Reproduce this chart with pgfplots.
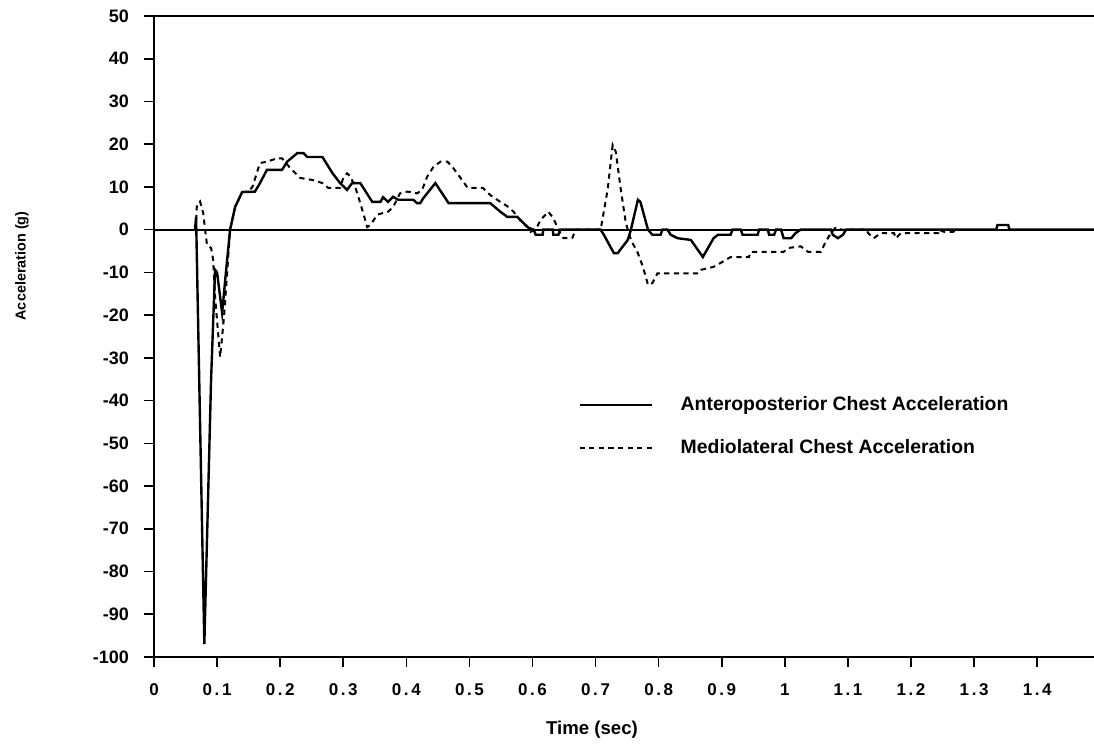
\documentclass[border=0pt]{standalone}
\usepackage{pgfplots}
\pgfplotsset{compat=1.18}
\usepackage{fontspec}
\setmainfont{Liberation Sans}
\newcommand{\dd}[2]{#1\kern1.3pt.\kern1.3pt#2}
\begin{document}
\begin{tikzpicture}
\begin{axis}[
  scale only axis, width=470pt, height=320.5pt,
  xmin=0, xmax=1.49, ymin=-100, ymax=50,
  axis lines=left, axis line style={-, line width=1pt},
  tick align=outside, major tick length=5pt,
  tick style={line width=0.8pt, black},
  xtick={0,0.1,0.2,0.3,0.4,0.5,0.6,0.7,0.8,0.9,1,1.1,1.2,1.3,1.4},
  xticklabels={0,\dd01,\dd02,\dd03,\dd04,\dd05,\dd06,\dd07,\dd08,\dd09,1,\dd11,\dd12,\dd13,\dd14},
  ytick={-100,-90,-80,-70,-60,-50,-40,-30,-20,-10,0,10,20,30,40,50},
  yticklabels={-100,-90,-80,-70,-60,-50,-40,-30,-20,-10,0,10,20,30,40,50},
  x tick label style={font=\bfseries\fontsize{8.5}{10}\selectfont, yshift=-5pt},
  y tick label style={font=\bfseries\fontsize{9}{10}\selectfont, xshift=-4pt},
  xlabel={Time (sec)}, ylabel={Acceleration (g)},
  xlabel style={font=\bfseries\fontsize{9.3}{10}\selectfont, at={(axis description cs:0.466,-0.113)}, anchor=center},
  ylabel style={font=\bfseries\fontsize{7.2}{8}\selectfont, at={(axis description cs:-0.1405,0.61)}, anchor=center},
  legend cell align=left,
  legend style={draw=none, fill=none, font=\bfseries\fontsize{9.7}{11}\selectfont,
    at={(axis description cs:0.451,0.3595)}, anchor=west, inner sep=0pt,
    nodes={inner sep=0pt}, row sep=13pt},
  legend image code/.code={\draw[#1] (0pt,0pt) -- (36pt,0pt); \path (50pt,0pt);},
  clip=false,
]
\coordinate (bl) at (rel axis cs:0,0);
\coordinate (tr) at (rel axis cs:1,1);
\draw[line width=1pt] (rel axis cs:0,1) -- (rel axis cs:1,1);
\addplot[black, line width=0.9pt, forget plot] coordinates {(0,0) (1.49,0)};
\addplot[black, line width=1.2pt] coordinates {
(0.065,0) (0.0667,3) (0.0798,-97) (0.0905,-35) (0.0968,-9.4) (0.100,-10) (0.108,-19.5)
(0.114,-10) (0.1206,0) (0.1286,5.3) (0.1397,8.8) (0.160,8.9) (0.168,10.9) (0.179,14)
(0.203,14) (0.211,15.9) (0.227,17.9) (0.237,17.9) (0.243,17) (0.267,17) (0.283,13.2)
(0.295,10.9) (0.306,9.3) (0.314,10.9) (0.327,10.9) (0.346,6.5) (0.359,6.5) (0.363,7.6)
(0.371,6.5) (0.379,7.7) (0.387,7) (0.411,7) (0.417,6.2) (0.422,6.2) (0.427,7.4)
(0.446,10.9) (0.467,6.2) (0.533,6.2) (0.549,4.2) (0.560,3) (0.576,3) (0.586,1.5)
(0.594,0.4) (0.602,0) (0.605,-1.2) (0.616,-1.2) (0.617,0) (0.632,0) (0.633,-1.2)
(0.641,-1.2) (0.644,0) (0.708,0) (0.713,-1.2) (0.729,-5.5) (0.735,-5.5) (0.751,-2.4)
(0.756,0) (0.767,7) (0.771,6.5) (0.783,0) (0.790,-1.2) (0.803,-1.2) (0.806,0) (0.814,0)
(0.819,-1.2) (0.830,-2) (0.851,-2.4) (0.870,-6.4) (0.887,-2) (0.894,-1.2) (0.914,-1.2)
(0.917,0) (0.930,0) (0.933,-1.2) (0.957,-1.2) (0.959,0) (0.973,0) (0.975,-1.2)
(0.983,-1.2) (0.986,0) (0.994,0) (0.998,-2) (1.010,-2) (1.017,-0.8) (1.025,0) (1.073,0)
(1.076,-1.2) (1.084,-2) (1.092,-1.2) (1.097,0) (1.335,0) (1.337,1.1) (1.354,1.1)
(1.356,0) (1.49,0)
};
\addlegendentry{Anteroposterior Chest Acceleration}
\addplot[black, line width=1pt, dash pattern=on 2.6pt off 2.2pt] coordinates {
(0.066,0) (0.068,5.8) (0.073,6.6) (0.078,3.9) (0.081,0) (0.084,-3.5) (0.0905,-4.3)
(0.0937,-7) (0.0968,-15.7) (0.1048,-29.8) (0.108,-25) (0.111,-20.4) (0.116,-10)
(0.1206,0) (0.1286,5.3) (0.1397,8.8) (0.149,8.9) (0.156,10) (0.168,15.6) (0.179,15.9)
(0.195,16.7) (0.203,16.7) (0.216,14.4) (0.232,12.1) (0.252,11.6) (0.267,10.9)
(0.276,9.8) (0.295,9.8) (0.300,12.1) (0.306,13.2) (0.311,12.5) (0.319,10) (0.327,6.2)
(0.338,0.6) (0.343,1.1) (0.354,3.5) (0.363,3.9) (0.371,4.2) (0.379,5.3) (0.390,8.5)
(0.402,8.9) (0.417,8.5) (0.425,9.3) (0.433,12.4) (0.443,14.7) (0.454,15.9) (0.465,15.9)
(0.473,14.7) (0.486,12.1) (0.497,9.8) (0.521,9.8) (0.533,8.1) (0.549,6.5) (0.560,5.5)
(0.570,4.2) (0.576,3) (0.584,1.5) (0.594,0.4) (0.597,-0.5) (0.605,0) (0.613,2.3)
(0.625,4.2) (0.633,2.7) (0.641,0) (0.644,-0.8) (0.649,-2) (0.663,-2) (0.665,-1.2)
(0.668,0) (0.708,0) (0.719,9.3) (0.727,19.8) (0.732,18.2) (0.740,9.3) (0.748,1.5)
(0.756,-2.4) (0.767,-5.5) (0.775,-8.7) (0.783,-12.9) (0.790,-12.5) (0.798,-10.2)
(0.863,-10.2) (0.867,-9.4) (0.887,-8.7) (0.898,-7.8) (0.914,-6.4) (0.943,-6.4)
(0.946,-5.2) (0.998,-5.2) (1.005,-4.3) (1.025,-3.9) (1.037,-5.2) (1.057,-5.2)
(1.065,-2.8) (1.073,-0.8) (1.081,0.6) (1.089,0) (1.129,0) (1.132,-0.8) (1.141,-2)
(1.152,-0.8) (1.173,-0.8) (1.176,-2) (1.184,-0.8) (1.243,-0.8) (1.244,0) (1.252,-0.5)
(1.267,-0.5) (1.271,0)
};
\addlegendentry{Mediolateral Chest Acceleration}
\end{axis}
\pgfresetboundingbox
\path ([shift={(-77pt,-44pt)}]bl) rectangle ([shift={(0pt,8pt)}]tr);
\end{tikzpicture}
\end{document}
